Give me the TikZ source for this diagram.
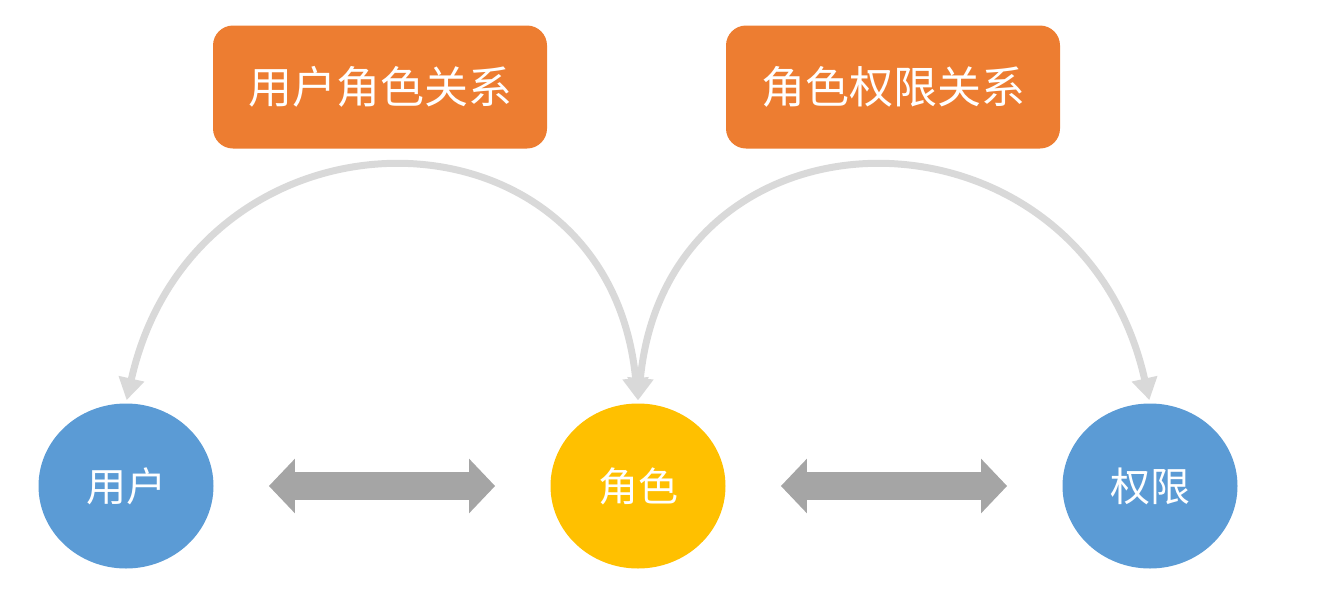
\documentclass[tikz,border=0pt]{standalone}
\usepackage{fontspec}
\setmainfont{Noto Sans CJK SC}
\usetikzlibrary{arrows.meta,shapes.geometric}
\definecolor{relorange}{HTML}{ED7D31}
\definecolor{entblue}{HTML}{5B9BD5}
\definecolor{roleyellow}{HTML}{FFC000}
\definecolor{arcgray}{HTML}{D9D9D9}
\definecolor{dblgray}{HTML}{A5A5A5}
\begin{document}
\begin{tikzpicture}[x=0.5pt,y=-0.5pt,
    entity/.style={ellipse,minimum width=87.5pt,minimum height=82.5pt,inner sep=0pt,text=white,font=\fontsize{20}{24}\selectfont},
    relbox/.style={rectangle,rounded corners=10pt,fill=relorange,minimum width=167pt,minimum height=61.5pt,text=white,font=\fontsize{22}{26}\selectfont},
    linkarc/.style={draw=arcgray,line width=3.5pt,{Triangle[length=11pt,width=12.5pt]}-{Triangle[length=11pt,width=12.5pt]},shorten <=1.5pt,shorten >=1.5pt},
    dblarrow/.style={draw=dblgray,line width=14pt,{Triangle[length=13pt,width=26.5pt]}-{Triangle[length=13pt,width=26.5pt]},shorten <=27.5pt,shorten >=27.5pt}]
  \useasboundingbox (0,0) rectangle (1324,590);
  % circles
  \node[entity,fill=entblue] (user) at (126,486) {用户};
  \node[entity,fill=roleyellow] (role) at (638,486) {角色};
  \node[entity,fill=entblue] (perm) at (1150,486) {权限};
  % labels
  \node[relbox] (userrole) at (380,87) {用户角色关系};
  \node[relbox] (roleperm) at (893,87) {角色权限关系};
  % arcs
  \draw[linkarc] (user.north) .. controls +(70,-312) and +(-30,-312) .. (role.north);
  \draw[linkarc] (role.north) .. controls +(30,-312) and +(-70,-312) .. (perm.north);
  % double arrows
  \draw[dblarrow] (user) -- (role);
  \draw[dblarrow] (role) -- (perm);
\end{tikzpicture}
\end{document}
